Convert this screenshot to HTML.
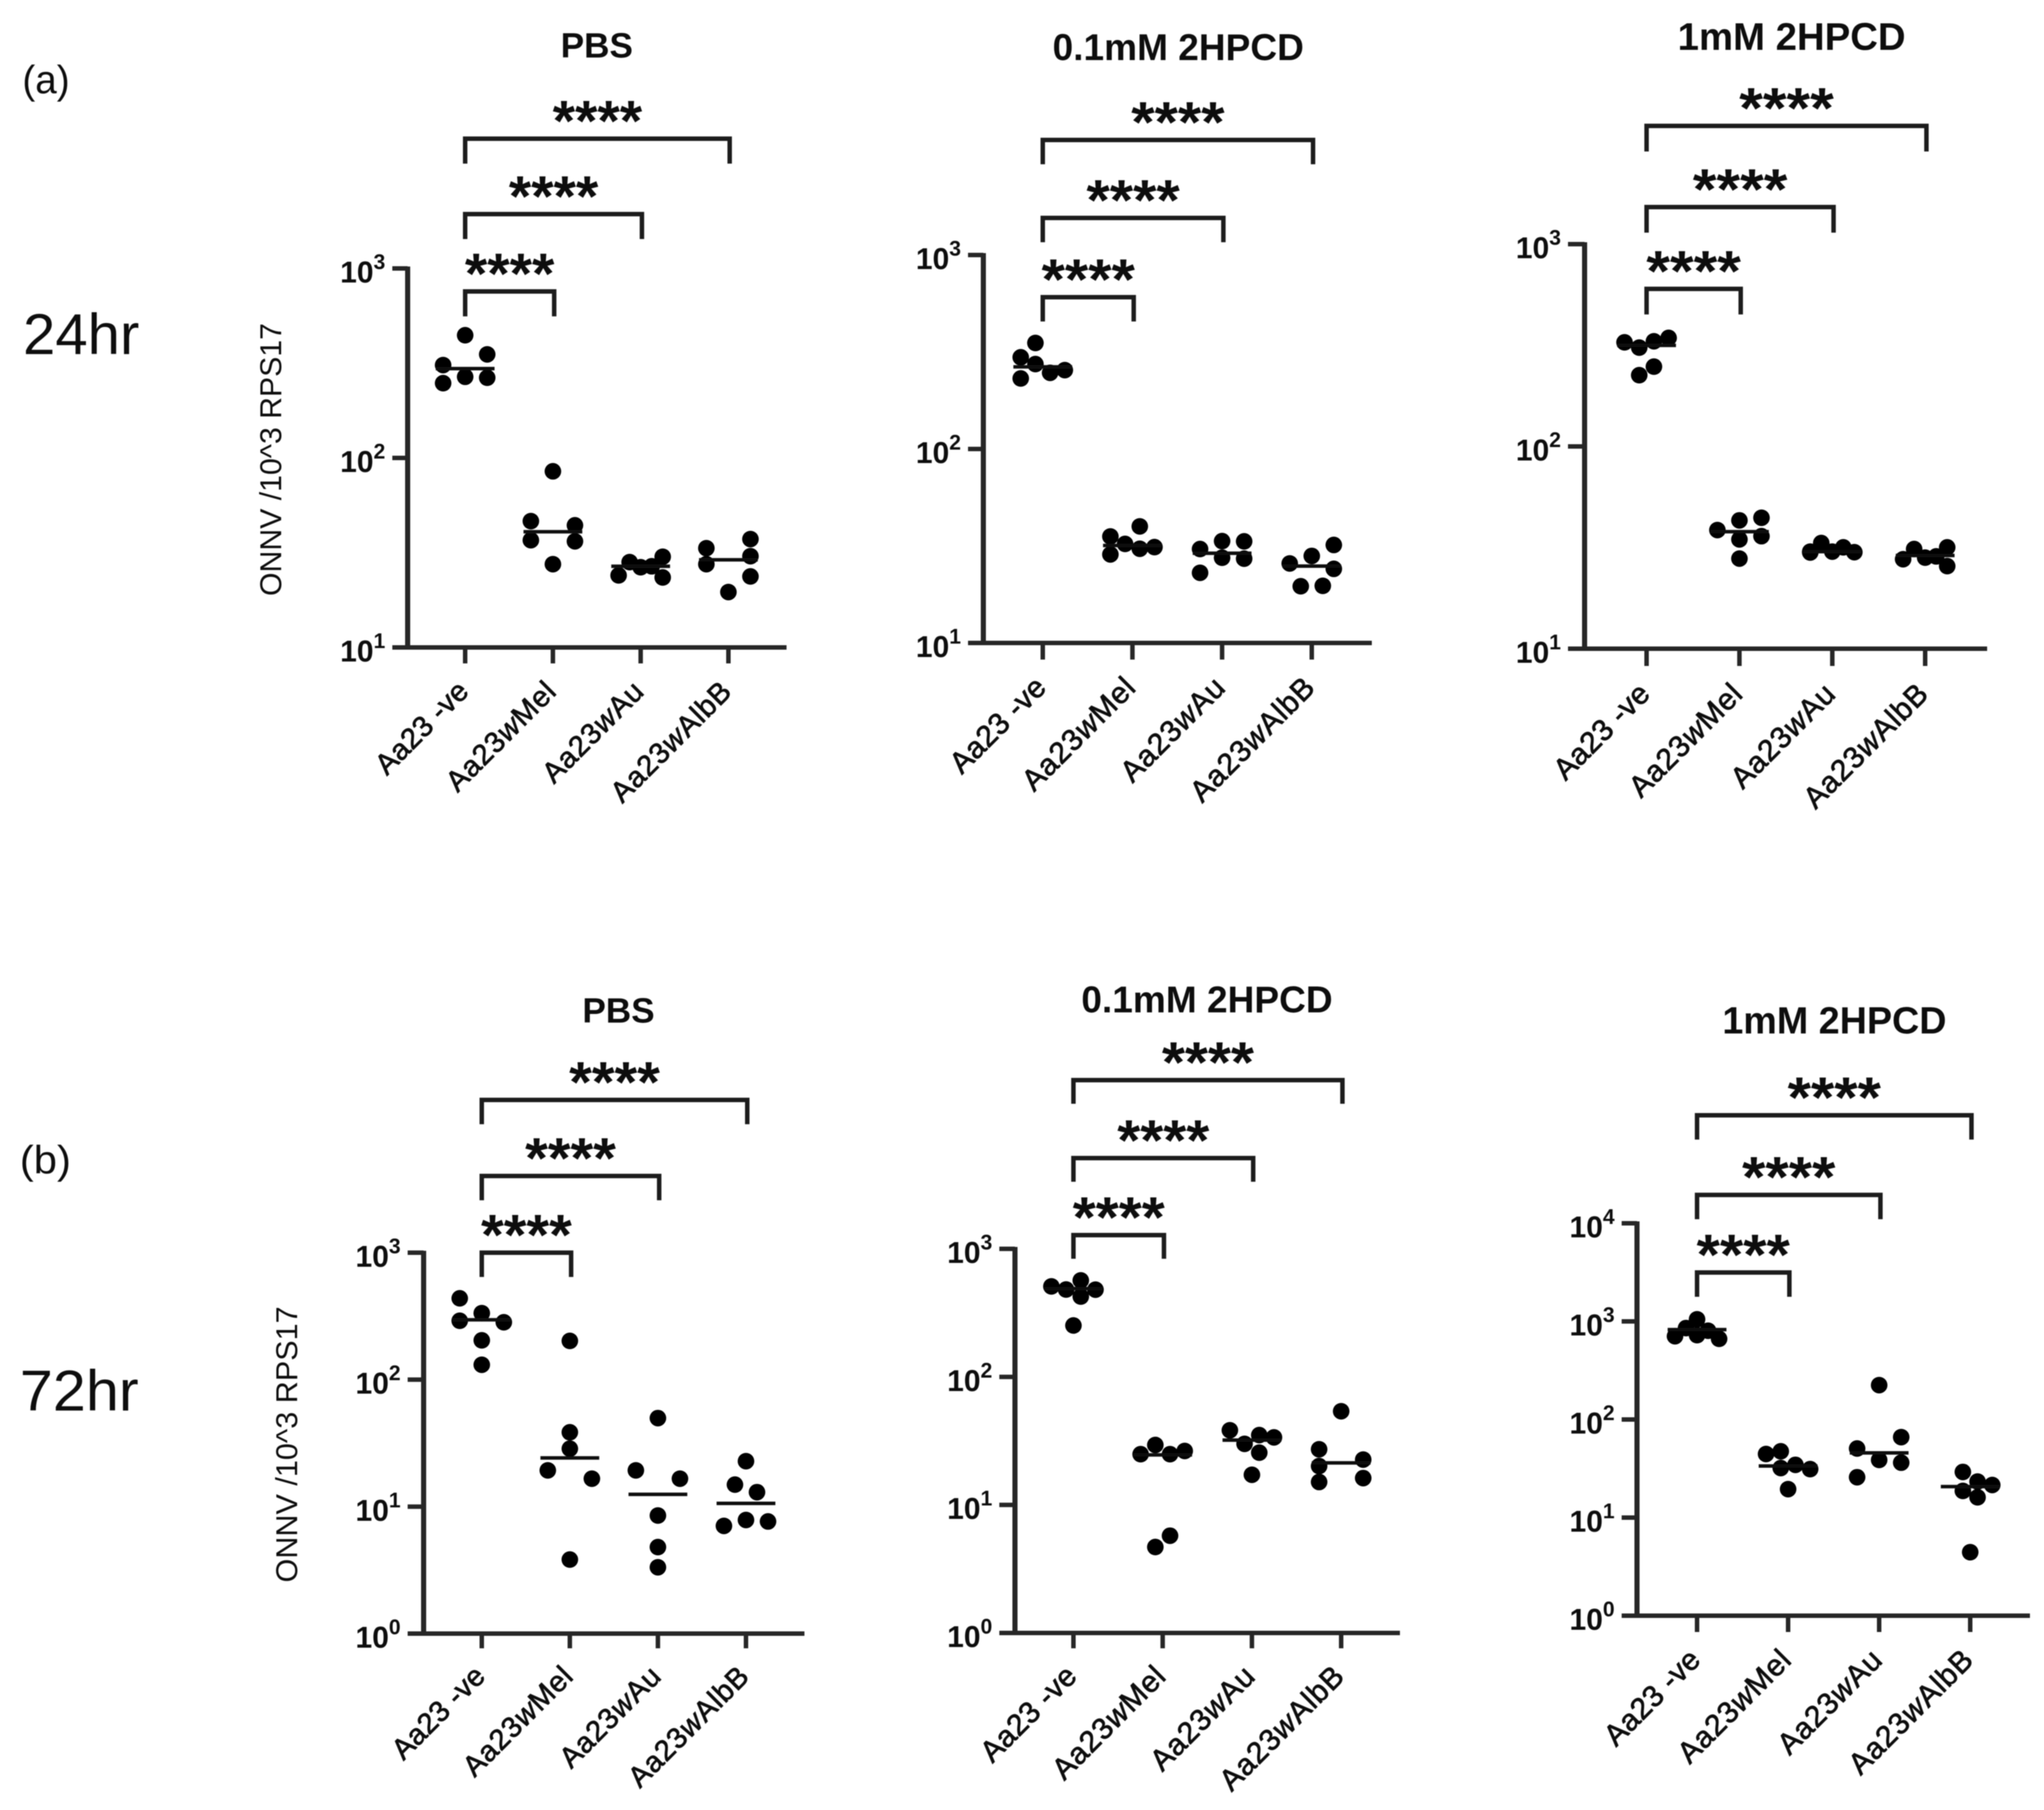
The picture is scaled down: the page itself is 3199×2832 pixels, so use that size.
<!DOCTYPE html>
<html lang="en">
<head>
<meta charset="utf-8">
<title>ONNV levels by Wolbachia strain and 2HPCD treatment</title>
<style>
html,body{margin:0;padding:0;background:#fff;}
svg{display:block;}
text{font-family:"Liberation Sans",Arial,sans-serif;fill:#111;}
.title{font-weight:700;text-anchor:middle;}
.ylab{font-size:47px;text-anchor:middle;fill:#111;}
</style>
</head>
<body>
<svg id="chart" xmlns="http://www.w3.org/2000/svg" width="3199" height="2832" viewBox="0 0 3199 2832">
<defs>
<filter id="soft" filterUnits="userSpaceOnUse" x="0" y="0" width="3199" height="2832"><feGaussianBlur stdDeviation="0.8"/></filter>
</defs>
<rect width="3199" height="2832" fill="#fff"/>
<g id="root" filter="url(#soft)">
<text class="row" x="35" y="146" font-size="62" textLength="74" lengthAdjust="spacingAndGlyphs">(a)</text>
<text class="row" x="36" y="554" font-size="90" textLength="182" lengthAdjust="spacingAndGlyphs">24hr</text>
<text class="row" x="31" y="1836" font-size="62" textLength="80" lengthAdjust="spacingAndGlyphs">(b)</text>
<text class="row" x="31" y="2207" font-size="90" textLength="186" lengthAdjust="spacingAndGlyphs">72hr</text>

<text class="title" x="934" y="90" font-size="55">PBS</text>
<text class="title" x="1844" y="94" font-size="58">0.1mM 2HPCD</text>
<text class="title" x="2804" y="78" font-size="60">1mM 2HPCD</text>
<text class="title" x="968" y="1600" font-size="55">PBS</text>
<text class="title" x="1889" y="1584" font-size="58">0.1mM 2HPCD</text>
<text class="title" x="2871" y="1617" font-size="59">1mM 2HPCD</text>

<text class="ylab" transform="translate(440 719) rotate(-90)" textLength="427" lengthAdjust="spacingAndGlyphs">ONNV /10^3 RPS17</text>
<text class="ylab" transform="translate(465 2260) rotate(-90)" textLength="432" lengthAdjust="spacingAndGlyphs">ONNV /10^3 RPS17</text>
</g>
</svg>
<script>
// Category labels: prefix, italic infix, suffix
const categoryPrefix = ["Aa23 -ve", "Aa23", "Aa23", "Aa23"];
const categoryItalic = ["", "w", "w", "w"];
const categorySuffix = ["", "Mel", "Au", "AlbB"];
const significanceLabel = "****";

// Tick exponents (10^n)
const a1Exponents = [1, 2, 3];
const a2Exponents = [1, 2, 3];
const a3Exponents = [1, 2, 3];
const b1Exponents = [0, 1, 2, 3];
const b2Exponents = [0, 1, 2, 3];
const b3Exponents = [0, 1, 2, 3, 4];

// Series values, one inner array per category
const a1Values = [
  [444, 352, 309, 268, 265, 248],
  [85, 46.4, 44.1, 36.8, 36.3, 27.5],
  [24.0, 28.2, 26.5, 26.8, 30.1, 23.4],
  [33.4, 37.3, 19.6, 30.3, 27.5, 23.7]
];
const a1Medians = [296, 40.8, 26.8, 29.0];
const a1Swarm = [
  [0, 1.5, -1.5, 0, 1.5, -1.5],
  [0, -1.5, 1.5, -1.5, 1.5, 0],
  [-1.5, -0.75, 0, 0.75, 1.5, 1.5],
  [-1.5, 1.5, 0, 1.5, -1.5, 1.5]
];

const a2Values = [
  [352, 297, 274, 255, 247, 231],
  [39.9, 35.4, 32.4, 31.2, 30.6, 28.6],
  [33.5, 33.4, 30.5, 27.5, 27.2, 23.0],
  [32.0, 28.1, 25.7, 24.1, 19.7, 19.6]
];
const a2Medians = [265, 31.8, 29.0, 24.9];
const a2Swarm = [
  [-0.5, -1.5, -0.5, 1.5, 0.5, -1.5],
  [0.5, -1.5, -0.5, 1.5, 0.5, -1.5],
  [0, 1.5, -1.5, 0, 1.5, -1.5],
  [1.5, 0, -1.5, 1.5, 0.75, -0.75]
];

const a3Values = [
  [344, 331, 327, 308, 248, 225],
  [44.4, 43.1, 38.6, 36.0, 34.7, 27.9],
  [33.3, 31.7, 30.2, 30.2, 30.0, 29.9],
  [31.7, 31.1, 28.6, 28.2, 27.7, 25.6]
];
const a3Medians = [316, 37.9, 30.2, 28.9];
const a3Swarm = [
  [1.5, 0.5, -1.5, -0.5, 0.5, -0.5],
  [1.5, 0, -1.5, 1.5, 0, 0],
  [-0.75, 0.75, -1.5, 0, 1.5, -1.5],
  [1.5, -0.75, 0.75, 0, -1.5, 1.5]
];

const b1Values = [
  [437, 334, 291, 283, 204, 131],
  [202, 38.5, 28.6, 19.3, 16.6, 3.83],
  [49.8, 19.3, 16.6, 8.51, 4.80, 3.33],
  [22.8, 14.9, 13.0, 7.85, 7.64, 7.05]
];
const b1Medians = [296, 24.2, 12.5, 10.6];
const b1Swarm = [
  [-1.5, 0, -1.5, 1.5, 0, 0],
  [0, 0, 0, -1.5, 1.5, 0],
  [0, -1.5, 1.5, 0, 0, 0],
  [0, -0.75, 0.75, 0, 1.5, -1.5]
];

const b2Values = [
  [567, 509, 481, 480, 424, 252],
  [29.4, 26.4, 24.9, 24.9, 5.75, 4.69],
  [38.3, 35.1, 33.7, 30.0, 25.6, 17.2],
  [53.9, 27.2, 22.6, 20.1, 16.2, 15.1]
];
const b2Medians = [490, 24.6, 32.1, 21.3];
const b2Swarm = [
  [0.5, -1.5, -0.5, 1.5, 0.5, 0],
  [-0.5, 1.5, -1.5, 0.5, 0.5, -0.5],
  [-1.5, 0.5, 1.5, -0.5, 0.5, 0],
  [0, -1.5, 1.5, -1.5, 1.5, -1.5]
];

const b3Values = [
  [1050, 855, 803, 724, 706, 664],
  [47.4, 44.5, 34.5, 32.0, 31.2, 19.5],
  [224, 66.1, 50.6, 38.7, 36.3, 25.8],
  [29.2, 23.3, 21.5, 18.7, 16.1, 4.44]
];
const b3Medians = [824, 33.6, 45.7, 20.7];
const b3Swarm = [
  [0, -0.75, 0.75, 0, -1.5, 1.5],
  [-0.5, -1.5, 0.5, -0.5, 1.5, 0],
  [0, 1.5, -1.5, 0, 1.5, -1.5],
  [-0.5, 0.5, 1.5, -0.5, 0.5, 0]
];

// Panel layout (page geometry only)
const panels = [
  {key:"a1", values:a1Values, medians:a1Medians, swarm:a1Swarm, exps:a1Exponents, axisX:638, top:420, bottom:1013, tickLeft:614, right:1231, x0:728, xLast:1140, tickBottom:1038, brackets:[456,335,217], drop:39, starW:140, labelSize:45.5},
  {key:"a2", values:a2Values, medians:a2Medians, swarm:a2Swarm, exps:a2Exponents, axisX:1539, top:399, bottom:1006, tickLeft:1515, right:2147, x0:1632, xLast:2053, tickBottom:1032, brackets:[465,341,219], drop:38, starW:146, labelSize:47},
  {key:"a3", values:a3Values, medians:a3Medians, swarm:a3Swarm, exps:a3Exponents, axisX:2480, top:382, bottom:1015, tickLeft:2454, right:3110, x0:2577, xLast:3013, tickBottom:1042, brackets:[452,324,197], drop:40, starW:148, labelSize:47},
  {key:"b1", values:b1Values, medians:b1Medians, swarm:b1Swarm, exps:b1Exponents, axisX:663, top:1960, bottom:2556, tickLeft:638, right:1259, x0:754, xLast:1167.5, tickBottom:2579, brackets:[1960,1840,1721], drop:38, starW:142, labelSize:45.5},
  {key:"b2", values:b2Values, medians:b2Medians, swarm:b2Swarm, exps:b2Exponents, axisX:1588.5, top:1954, bottom:2555, tickLeft:1564, right:2191, x0:1680, xLast:2099, tickBottom:2579, brackets:[1932.5,1812,1690], drop:37, starW:144, labelSize:47},
  {key:"b3", values:b3Values, medians:b3Medians, swarm:b3Swarm, exps:b3Exponents, axisX:2562, top:1914, bottom:2528, tickLeft:2538, right:3177, x0:2656, xLast:3083.5, tickBottom:2553.5, brackets:[1991,1869.6,1745], drop:38, starW:146, labelSize:47}
];

const NS = "http://www.w3.org/2000/svg";
const INK = "#262626";
const SWARM_UNIT = 23;
const root = document.getElementById("root");

function make(parent, tag, attrs) {
  const node = document.createElementNS(NS, tag);
  for (const k in attrs) node.setAttribute(k, attrs[k]);
  parent.appendChild(node);
  return node;
}

panels.forEach(function (p) {
  const minExp = p.exps[0];
  const maxExp = p.exps[p.exps.length - 1];
  const yScale = function (v) {
    return p.bottom - (Math.log10(v) - minExp) * (p.bottom - p.top) / (maxExp - minExp);
  };
  const step = (p.xLast - p.x0) / (p.values.length - 1);
  const xScale = function (i) { return p.x0 + i * step; };

  const g = make(root, "g", {});
  
  

  const yAxis = make(g, "line", {x1:p.axisX, x2:p.axisX, y1:p.top - 3, y2:p.bottom + 3, stroke:INK, "stroke-width":8});
  
  

  const xAxis = make(g, "line", {x1:p.tickLeft, x2:p.right, y1:p.bottom, y2:p.bottom, stroke:INK, "stroke-width":7});
  
  

  p.exps.forEach(function (e) {
    const yy = yScale(Math.pow(10, e));
    const tick = make(g, "line", {x1:p.tickLeft, x2:p.axisX, y1:yy, y2:yy, stroke:INK, "stroke-width":7});
    
    
    const label = make(g, "text", {x:p.tickLeft - 11, y:yy + 22, "text-anchor":"end", "font-size":47, "font-weight":700});
    
    
    label.appendChild(document.createTextNode("10"));
    const sup = make(label, "tspan", {dy:-21, "font-size":33});
    sup.textContent = String(e);
  });

  p.values.forEach(function (group, i) {
    const cx = xScale(i);
    const xt = make(g, "line", {x1:cx, x2:cx, y1:p.bottom, y2:p.tickBottom, stroke:INK, "stroke-width":7});
    
    

    const lab = make(g, "text", {
      transform:"translate(" + (cx + 8) + " " + (p.tickBottom + 46) + ") rotate(-45)",
      "text-anchor":"end", "font-size":p.labelSize, stroke:"#111", "stroke-width":1.1,
      "letter-spacing":categoryItalic[i] ? 1.2 : 0.3
    });
    
    
    lab.appendChild(document.createTextNode(categoryPrefix[i]));
    if (categoryItalic[i]) {
      const it = make(lab, "tspan", {"font-style":"italic"});
      it.textContent = categoryItalic[i];
      lab.appendChild(document.createTextNode(categorySuffix[i]));
    }

    group.forEach(function (v, j) {
      const dot = make(g, "circle", {cx:cx + p.swarm[i][j] * SWARM_UNIT, cy:yScale(v), r:13, fill:"#000"});
      
      
    });

    const my = yScale(p.medians[i]);
    const med = make(g, "line", {x1:cx - 46, x2:cx + 46, y1:my, y2:my, stroke:"#111", "stroke-width":5.5});
    
    
  });

  p.brackets.forEach(function (by, k) {
    const x1 = xScale(0);
    const x2 = xScale(k + 1) + 2;
    const br = make(g, "path", {
      d:"M" + x1 + " " + (by + p.drop) + "V" + by + "H" + x2 + "V" + (by + p.drop),
      fill:"none", stroke:"#1a1a1a", "stroke-width":7
    });
    
    
    const st = make(g, "text", {
      x:(x1 + x2) / 2, y:by + 3, "text-anchor":"middle", "font-size":90, "font-weight":700,
      textLength:p.starW, lengthAdjust:"spacingAndGlyphs", fill:"#000"
    });
    
    
    st.textContent = significanceLabel;
  });
});
</script>
</body>
</html>
